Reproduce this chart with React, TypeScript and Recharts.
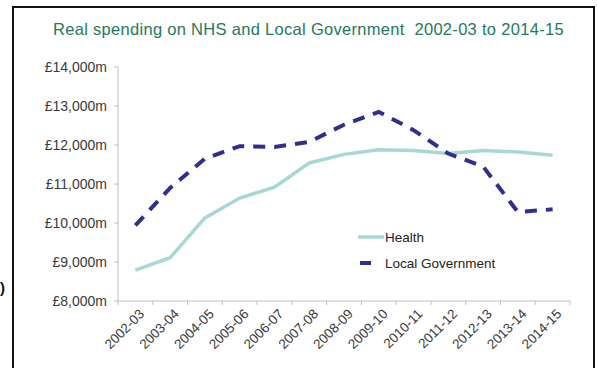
import React from "react";
import { LineChart, Line, XAxis, YAxis } from "recharts";

const years = [
  "2002-03", "2003-04", "2004-05", "2005-06", "2006-07", "2007-08", "2008-09",
  "2009-10", "2010-11", "2011-12", "2012-13", "2013-14", "2014-15",
];
const health = [8790, 9110, 10130, 10640, 10920, 11540, 11760, 11880, 11860, 11780, 11860, 11820, 11740];
const localGov = [9940, 10900, 11650, 11970, 11950, 12080, 12520, 12850, 12380, 11780, 11450, 10280, 10350];
const yTicks = [8000, 9000, 10000, 11000, 12000, 13000, 14000];

const data = years.map((year, i) => ({ year, health: health[i], localGov: localGov[i] }));

const FONT = "'Liberation Sans', Arial, sans-serif";
const AXIS = "#c0c0c0";
const HEALTH_C = "#a8d8d6";
const LG_C = "#2e2f8f";
const PLOT_W = 452;
const BAND = PLOT_W / years.length;

const fmtMoney = (v: number) => `£${v.toLocaleString("en-GB")}m`;

// tick marks sit between categories (Excel style), labels at the centre
function YearTick(props: any) {
  const { x, y, payload, index } = props;
  const left = x - BAND / 2;
  const top = y - 8;
  const ax = x + 3;
  const ay = y - 1;
  return (
    <g>
      <line x1={left} y1={top} x2={left} y2={top + 4} stroke={AXIS} />
      {index === years.length - 1 && (
        <line x1={left + BAND} y1={top} x2={left + BAND} y2={top + 4} stroke={AXIS} />
      )}
      <text
        x={ax}
        y={ay}
        transform={`rotate(-45, ${ax}, ${ay})`}
        textAnchor="end"
        dominantBaseline="hanging"
        fontSize={13.5}
        fill="#3a3a3a"
        fontFamily={FONT}
      >
        {payload.value}
      </text>
    </g>
  );
}

export default function App() {
  return (
    <div style={{ position: "absolute", left: 0, top: 0, width: 598, height: 368, background: "#fff", overflow: "hidden" }}>
      <div
        style={{
          position: "absolute", left: 12, top: 6, width: 583, height: 380,
          border: "2px solid #111", boxSizing: "border-box",
        }}
      />
      <div style={{ position: "absolute", left: 0, top: 279, fontFamily: FONT, fontSize: 15, fontWeight: "bold", color: "#111" }}>)</div>
      <div
        style={{
          position: "absolute", left: 53, top: 20, fontFamily: FONT, fontSize: 16.5,
          letterSpacing: 0.3, color: "#237a5c", whiteSpace: "pre",
        }}
      >
        {"Real spending on NHS and Local Government  2002-03 to 2014-15"}
      </div>
      <LineChart
        width={598}
        height={368}
        data={data}
        margin={{ top: 67, right: 28, bottom: 7, left: 0 }}
        style={{ position: "absolute", left: 0, top: 0 }}
      >
        <XAxis
          dataKey="year"
          scale="band"
          interval={0}
          height={60}
          stroke={AXIS}
          tickLine={false}
          tick={<YearTick />}
        />
        <YAxis
          domain={[8000, 14000]}
          ticks={yTicks}
          width={118}
          stroke={AXIS}
          tickSize={4}
          tickMargin={7}
          tickFormatter={fmtMoney}
          tick={{ fontSize: 14, fill: "#3a3a3a", fontFamily: FONT }}
        />
        <Line
          dataKey="health"
          name="Health"
          stroke={HEALTH_C}
          strokeWidth={3.5}
          dot={false}
          isAnimationActive={false}
        />
        <Line
          dataKey="localGov"
          name="Local Government"
          stroke={LG_C}
          strokeWidth={4}
          strokeDasharray="12 9"
          dot={false}
          isAnimationActive={false}
        />
      </LineChart>
      <div style={{ position: "absolute", left: 357, top: 226, fontFamily: FONT, fontSize: 13.5, color: "#222" }}>
        <div style={{ display: "flex", alignItems: "center", height: 22 }}>
          <svg width={28} height={8}><line x1={1} y1={4} x2={27} y2={4} stroke={HEALTH_C} strokeWidth={3.5} /></svg>
          <span>Health</span>
        </div>
        <div style={{ display: "flex", alignItems: "center", height: 30 }}>
          <svg width={28} height={8}><line x1={3} y1={4} x2={14} y2={4} stroke={LG_C} strokeWidth={4} /></svg>
          <span>Local Government</span>
        </div>
      </div>
    </div>
  );
}
